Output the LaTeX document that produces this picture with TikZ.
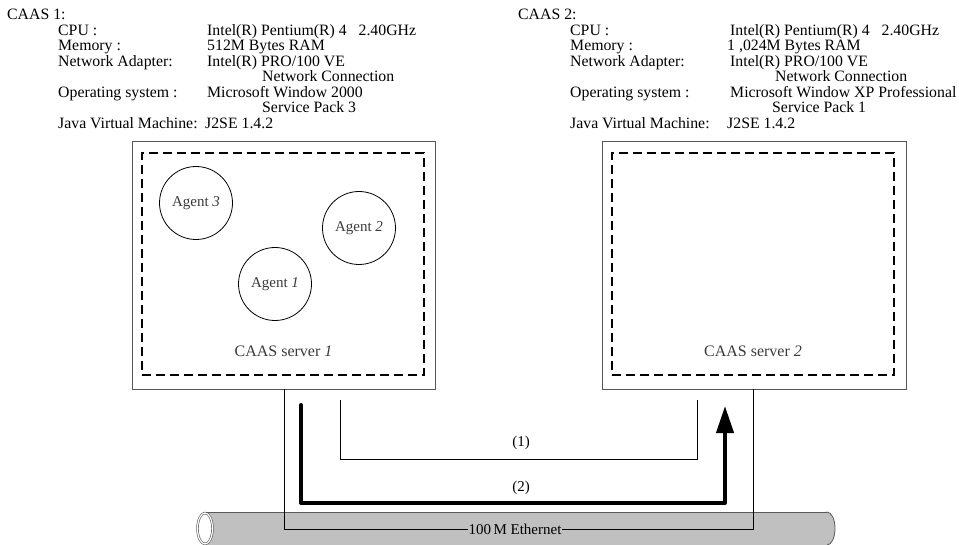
\documentclass[tikz,border=0pt]{standalone}
\usepackage{fontspec}
\setmainfont{Liberation Serif}
\usetikzlibrary{arrows.meta}
\definecolor{cylgray}{HTML}{C0C0C0}
\definecolor{boxgray}{HTML}{555555}
\definecolor{lblgray}{HTML}{3A3A3A}
\begin{document}
\begin{tikzpicture}[x=1pt,y=-1pt,
  txt/.style={anchor=base west,inner sep=0pt,font=\fontsize{15.8}{15.8}\selectfont},
  outerbox/.style={draw=boxgray,line width=0.9pt,fill=white,inner sep=0pt},
  dashbox/.style={draw=black,line width=2.2pt,dash pattern=on 9pt off 5pt,inner sep=0pt},
  agent/.style={circle,draw=black,line width=0.8pt,minimum size=73pt,inner sep=0pt,
    font=\fontsize{15}{15}\selectfont,text=lblgray},
  srvlbl/.style={font=\fontsize{16}{16}\selectfont,text=lblgray,inner sep=0pt},
  thinconn/.style={draw=black,line width=0.8pt},
  thickconn/.style={draw=black,line width=4pt,line cap=round,line join=round},
  numlbl/.style={font=\fontsize{15}{15}\selectfont,inner sep=0pt},
  cyl/.style={fill=cylgray},
  cylline/.style={draw=black!65,line width=0.8pt}
]
\useasboundingbox (0,0) rectangle (959,545);

% ---------- text blocks ----------
\node[txt] (c1t) at (7,20) {CAAS 1:};
\node[txt] (c1l1) at (58,35.5) {CPU :};
\node[txt] (c1l2) at (58,51) {Memory :};
\node[txt] (c1l3) at (58,66.5) {Network Adapter:};
\node[txt] (c1l4) at (58,97.5) {Operating system :};
\node[txt] (c1l5) at (58,128.5) {Java Virtual Machine:};
\node[txt] (c1v1) at (207,35.5) {Intel(R) Pentium(R) 4\ \ \ 2.40GHz};
\node[txt] (c1v2) at (207,51) {512M Bytes RAM};
\node[txt] (c1v3) at (207,66.5) {Intel(R) PRO/100 VE};
\node[txt] (c1v4) at (262,82) {Network Connection};
\node[txt] (c1v5) at (207,97.5) {Microsoft Window 2000};
\node[txt] (c1v6) at (262,113) {Service Pack 3};
\node[txt] (c1v7) at (205,128.5) {J2SE 1.4.2};

\node[txt] (c2t) at (518,20) {CAAS 2:};
\node[txt] (c2l1) at (570,35.5) {CPU :};
\node[txt] (c2l2) at (570,51) {Memory :};
\node[txt] (c2l3) at (570,66.5) {Network Adapter:};
\node[txt] (c2l4) at (570,97.5) {Operating system :};
\node[txt] (c2l5) at (570,128.5) {Java Virtual Machine:};
\node[txt] (c2v1) at (730,35.5) {Intel(R) Pentium(R) 4\ \ \ 2.40GHz};
\node[txt] (c2v2) at (727,51) {1 ,024M Bytes RAM};
\node[txt] (c2v3) at (730,66.5) {Intel(R) PRO/100 VE};
\node[txt] (c2v4) at (775,82) {Network Connection};
\node[txt] (c2v5) at (730,97.5) {Microsoft Window XP Professional};
\node[txt] (c2v6) at (772,113) {Service Pack 1};
\node[txt] (c2v7) at (727,128.5) {J2SE 1.4.2};

% ---------- Ethernet cylinder ----------
\draw[cyl,cylline] (827,528.5) ellipse [x radius=8pt, y radius=16.5pt];
\fill[cyl] (205,512) rectangle (827,546);
\draw[cylline] (205,512) -- (827,512);
\draw[cylline] (205,545) -- (827,545);
\draw[draw=black!65,line width=0.6pt,double=white,double distance=1.2pt,fill=white]
  (205,528.5) ellipse [x radius=7.5pt, y radius=15.5pt];

% ---------- servers ----------
\node[outerbox,minimum width=303pt,minimum height=248pt] (box1) at (283.5,265) {};
\node[dashbox,minimum width=282pt,minimum height=222pt] (dash1) at (283,264) {};
\node[outerbox,minimum width=304pt,minimum height=248pt] (box2) at (754,265) {};
\node[dashbox,minimum width=282pt,minimum height=222pt] (dash2) at (753,264) {};

\node[agent] (ag3) at (196,203) {Agent \textit{3}};
\node[agent] (ag2) at (359,228) {Agent \textit{2}};
\node[agent] (ag1) at (275,284) {Agent \textit{1}};

\node[srvlbl] (srv1) at (283.5,351) {CAAS server \textit{1}};
\node[srvlbl] (srv2) at (753,351) {CAAS server \textit{2}};

% ---------- connectors ----------
\coordinate (b1o) at (284,389);
\coordinate (b2o) at (753,389);
\node[numlbl,fill=cylgray,inner sep=0.5pt] (eth) at (515,529) {100\,M Ethernet};
\draw[thinconn] (b1o) |- (eth.west);
\draw[thinconn] (eth.east) -| (b2o);

\coordinate (p1a) at (340,400);
\coordinate (p1b) at (697,400);
\draw[thinconn] (p1a) -- ++(0,59) -| (p1b);
\node[numlbl] (n1) at (521,443) {(1)};

\coordinate (p2a) at (301,405);
\coordinate (p2b) at (725,406);
\draw[thickconn,-{Triangle[length=27pt,width=17pt]}] (p2a) -- ++(0,98) -| (p2b);
\node[numlbl] (n2) at (521,488) {(2)};
\end{tikzpicture}
\end{document}
